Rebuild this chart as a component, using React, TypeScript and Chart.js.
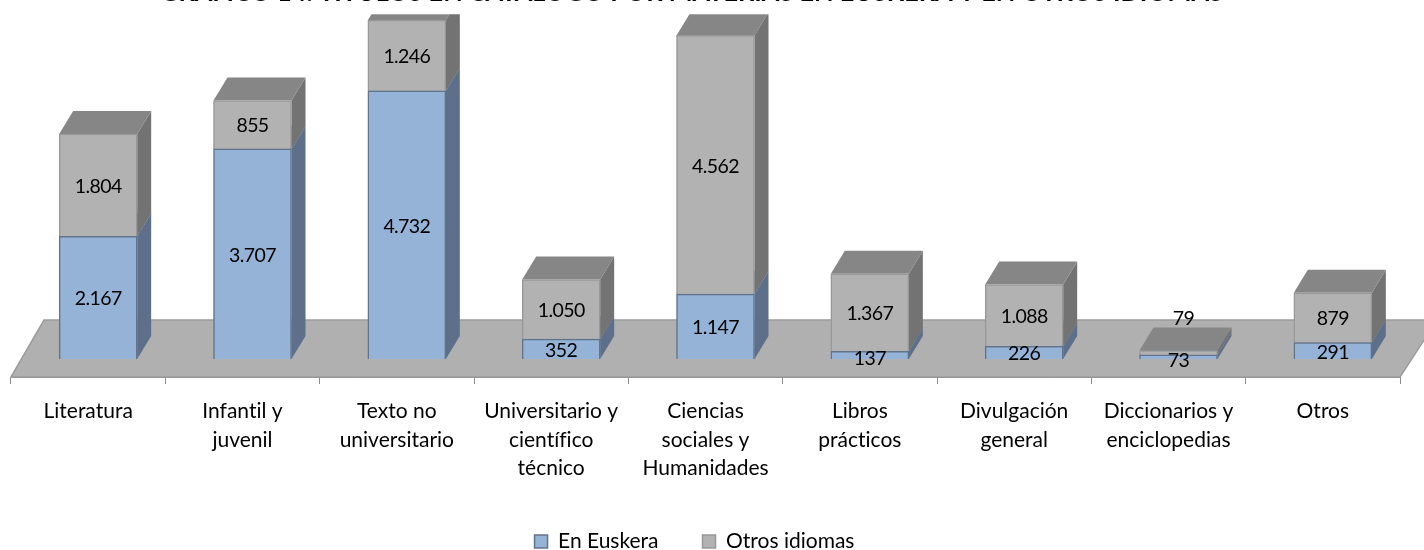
import React, { useEffect, useRef } from "react";
import { Chart, registerables } from "chart.js";

Chart.register(...registerables);

const categories = [
  ["Literatura"],
  ["Infantil y", "juvenil"],
  ["Texto no", "universitario"],
  ["Universitario y", "científico", "técnico"],
  ["Ciencias", "sociales y", "Humanidades"],
  ["Libros", "prácticos"],
  ["Divulgación", "general"],
  ["Diccionarios y", "enciclopedias"],
  ["Otros"],
];
const enEuskera = [2167, 3707, 4732, 352, 1147, 137, 226, 73, 291];
const otrosIdiomas = [1804, 855, 1246, 1050, 4562, 1367, 1088, 79, 879];
const titleText = "GRÁFICO 14: TÍTULOS EN CATÁLOGO POR MATERIAS EN EUSKERA Y EN OTROS IDIOMAS";

const FONT = "Lato";
const CANVAS_TOP = -22;
const DEPTH_X = 14;
const DEPTH_Y = 23;
const BAR_SHIFT = 10;
const faces = [
  { side: "#5d6f8a", top: "#6f85a3" },
  { side: "#737373", top: "#868686" },
];
const format = (v: number) => (v >= 1000 ? `${Math.floor(v / 1000)}.${String(v % 1000).padStart(3, "0")}` : String(v));

const threeD = {
  id: "threeD",
  afterLayout(chart: any) {
    chart.legend.left -= 11;
    chart.legend.right -= 11;
    chart.titleBlock.left -= 14;
    chart.titleBlock.right -= 14;
  },
  beforeDraw(chart: any) {
    chart.ctx.textRendering = "optimizeSpeed";
  },
  beforeDatasetsDraw(chart: any) {
    const { ctx, chartArea: a, width, height } = chart;
    ctx.save();
    ctx.beginPath();
    ctx.rect(0, a.top, width, height);
    ctx.clip();
    ctx.beginPath();
    ctx.moveTo(a.left, a.bottom);
    ctx.lineTo(a.left + 33, a.bottom - 57);
    ctx.lineTo(a.right + 37, a.bottom - 57);
    ctx.lineTo(a.right, a.bottom);
    ctx.closePath();
    ctx.fillStyle = "#b0b0b0";
    ctx.fill();
    ctx.strokeStyle = "#9c9c9c";
    ctx.lineWidth = 1.5;
    ctx.stroke();
    ctx.translate(BAR_SHIFT, 0);
    chart.data.datasets.forEach((_: any, di: number) => {
      chart.getDatasetMeta(di).data.forEach((bar: any) => {
        const l = bar.x - bar.width / 2;
        const r = bar.x + bar.width / 2;
        ctx.beginPath();
        ctx.moveTo(r, bar.y);
        ctx.lineTo(r + DEPTH_X, bar.y - DEPTH_Y);
        ctx.lineTo(r + DEPTH_X, bar.base - DEPTH_Y);
        ctx.lineTo(r, bar.base);
        ctx.closePath();
        ctx.fillStyle = faces[di].side;
        ctx.fill();
        ctx.beginPath();
        ctx.moveTo(l, bar.y);
        ctx.lineTo(l + DEPTH_X, bar.y - DEPTH_Y);
        ctx.lineTo(r + DEPTH_X, bar.y - DEPTH_Y);
        ctx.lineTo(r, bar.y);
        ctx.closePath();
        ctx.fillStyle = faces[di].top;
        ctx.fill();
      });
    });
  },
  afterDatasetsDraw(chart: any) {
    const { ctx } = chart;
    ctx.fillStyle = "#000";
    ctx.font = `19.5px ${FONT}`;
    ctx.letterSpacing = "-0.6px";
    ctx.textAlign = "center";
    ctx.textBaseline = "middle";
    chart.data.datasets.forEach((ds: any, di: number) => {
      chart.getDatasetMeta(di).data.forEach((bar: any, i: number) => {
        const v = ds.data[i];
        const lift = di === 1 && v < 100 ? 35 : 0;
        const nudgeX = di === 1 && v < 100 ? 5 : 0;
        const nudgeY = bar.base - bar.y < 12 && !lift ? 2 : 0;
        ctx.fillText(format(v), bar.x + nudgeX, (bar.y + bar.base) / 2 + 1.5 - lift + nudgeY);
      });
    });
    ctx.letterSpacing = "0px";
    ctx.restore();
  },
};

export default function App() {
  const ref = useRef<HTMLCanvasElement>(null);
  useEffect(() => {
    const chart = new Chart(ref.current!, {
      type: "bar",
      data: {
        labels: categories,
        datasets: [
          { label: "En Euskera", data: enEuskera, backgroundColor: "#95b3d7", borderColor: "#62748c", borderWidth: 1.5, clip: false } as any,
          { label: "Otros idiomas", data: otrosIdiomas, backgroundColor: "#b2b2b2", borderColor: "#989898", borderWidth: 1.5, clip: false } as any,
        ],
      },
      options: {
        animation: false,
        responsive: false,
        barThickness: 78,
        layout: { padding: { left: 11, right: 24, top: 0, bottom: 0 } },
        scales: {
          x: {
            stacked: true,
            afterFit: (s: any) => { s.height = 110; },
            grid: { drawOnChartArea: false, drawTicks: true, tickLength: 7, color: "#8c8c8c" },
            border: { color: "#8c8c8c", width: 1 },
            ticks: { autoSkip: false, maxRotation: 0, minRotation: 0, color: "#000", padding: 13, font: { family: FONT, size: 21, lineHeight: 1.36 } },
          },
          y: { stacked: true, display: false, min: -316, max: 6081 },
        },
        plugins: {
          title: { display: true, text: titleText, color: "#000", padding: { top: 0, bottom: 6 }, font: { family: FONT, size: 25.3, weight: "bold", lineHeight: 1.2 } },
          legend: {
            position: "bottom",
            labels: { boxWidth: 13, boxHeight: 13, padding: 44, color: "#000", font: { family: FONT, size: 21 } },
          },
          tooltip: { enabled: false },
        },
      } as any,
      plugins: [threeD],
    });
    return () => chart.destroy();
  }, []);
  return (
    <div style={{ position: "fixed", left: 0, top: 0, width: 1424, height: 550, overflow: "hidden", background: "#fff" }}>
      <canvas ref={ref} width={1424} height={584} style={{ position: "absolute", left: 0, top: CANVAS_TOP }} />
    </div>
  );
}
